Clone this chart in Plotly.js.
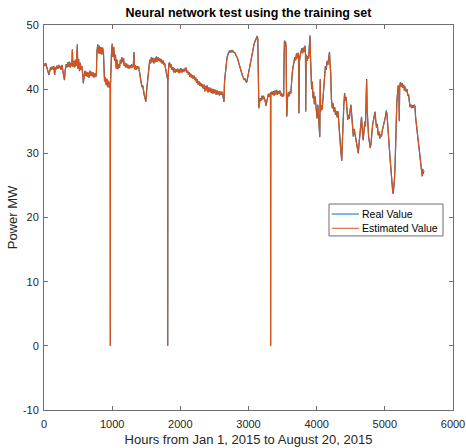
<!DOCTYPE html>
<html>
<head>
<meta charset="utf-8">
<script src="https://cdn.plot.ly/plotly-3.0.1.min.js"></script>
<style>html,body{margin:0;padding:0;background:#fff;}#chart{width:466px;height:448px;}</style>
</head>
<body>
<div id="chart"></div>
<script>
const chartTitle = 'Neural network test using the training set';
const xTitle = 'Hours from Jan 1, 2015 to August 20, 2015';
const yTitle = 'Power MW';
const seriesNames = ['Real Value', 'Estimated Value'];
const seriesColors = ['#0072BD', '#D95319'];
const xTicks = [0, 1000, 2000, 3000, 4000, 5000, 6000];
const yTicks = [-10, 0, 10, 20, 30, 40, 50];

const hours = [
0,12,24,36,48,60,72,84,96,108,120,132,144,156,168,180,192,204,216,228,240,252,264,276,288,300,
312,324,336,348,360,372,384,396,408,416,424,436,448,460,472,482,489,496,508,520,532,544,556,568,577,
588,600,612,624,636,648,660,672,684,696,708,720,732,744,756,768,776,788,800,812,824,836,848,860,872,
882,888,900,912,924,936,948,960,971,973,975,990,1000,1012,1024,1036,1048,1060,1072,1084,1096,1108,
1120,1132,1144,1156,1168,1176,1188,1200,1212,1224,1236,1248,1260,1272,1284,1296,1310,1320,1328,1340,
1352,1364,1376,1388,1400,1412,1424,1436,1448,1460,1472,1484,1494,1504,1516,1528,1540,1552,1564,1576,
1588,1600,1612,1624,1636,1648,1660,1672,1684,1696,1708,1720,1732,1744,1756,1768,1780,1792,1804,1813,
1815,1817,1830,1842,1854,1866,1878,1890,1902,1914,1926,1938,1950,1962,1974,1986,1998,2010,2022,2034,
2046,2058,2070,2082,2094,2106,2118,2130,2142,2154,2166,2178,2190,2202,2214,2226,2238,2250,2262,2274,
2286,2298,2310,2322,2334,2346,2358,2370,2382,2394,2406,2418,2430,2442,2454,2466,2478,2490,2502,2514,
2526,2538,2550,2562,2574,2586,2598,2610,2622,2634,2640,2648,2660,2672,2684,2696,2708,2720,2732,2744,
2756,2768,2780,2792,2804,2816,2828,2840,2852,2864,2876,2888,2900,2912,2924,2936,2948,2960,2972,2984,
2996,3008,3020,3032,3044,3056,3068,3080,3092,3104,3116,3128,3136,3142,3148,3152,3160,3172,3184,3196,
3208,3220,3232,3244,3256,3268,3280,3292,3304,3323,3325,3327,3340,3352,3364,3376,3388,3400,3412,3424,
3436,3448,3460,3472,3484,3496,3508,3516,3522,3528,3536,3544,3552,3558,3562,3572,3584,3596,3608,3620,
3632,3644,3656,3668,3680,3692,3704,3716,3728,3736,3740,3746,3758,3770,3782,3794,3806,3818,3828,3836,
3840,3846,3858,3870,3882,3892,3902,3908,3916,3926,3936,3946,3956,3966,3976,3986,3996,4006,4016,4026,
4036,4046,4052,4058,4068,4080,4092,4104,4116,4128,4140,4152,4164,4176,4188,4196,4206,4216,4228,4240,
4252,4264,4276,4288,4300,4312,4324,4336,4348,4360,4368,4376,4386,4398,4410,4420,4432,4444,4456,4468,
4480,4490,4502,4514,4526,4538,4550,4562,4574,4586,4598,4610,4622,4634,4646,4658,4670,4682,4694,4706,
4716,4726,4733,4740,4750,4762,4774,4786,4798,4810,4822,4834,4846,4856,4866,4878,4890,4902,4914,4926,
4938,4950,4962,4974,4986,4998,5010,5022,5032,5042,5054,5066,5078,5090,5100,5110,5118,5126,5134,5142,
5150,5158,5166,5176,5186,5196,5206,5212,5218,5228,5240,5252,5264,5276,5288,5300,5312,5324,5336,5348,
5360,5370,5382,5394,5406,5418,5430,5442,5452,5462,5472,5484,5496,5508,5520,5530,5540,5548,5556,5564,5572
];

const realMW = [
44.0,43.6,44.1,43.5,43.2,42.6,42.2,42.8,43.4,43.0,43.5,43.1,43.6,42.2,43.4,43.1,43.7,43.2,43.8,43.3,43.6,43.0,43.8,42.9,42.0,41.4,
43.0,43.9,43.4,44.2,43.5,44.3,43.4,44.1,43.6,46.2,43.5,44.4,43.4,44.6,43.6,44.9,47.0,43.2,44.7,42.8,44.1,43.0,43.6,42.2,40.9,
42.0,42.9,42.1,42.7,41.9,42.6,41.8,42.9,42.1,42.7,42.0,42.6,41.8,42.5,41.9,42.2,45.8,47.0,45.6,46.8,45.5,46.6,45.4,46.5,45.7,
44.0,41.2,41.9,40.6,41.6,40.3,41.3,40.2,41.0,0.0,40.5,45.6,47.1,45.0,46.6,44.4,45.4,43.2,44.6,43.1,43.9,43.3,
44.6,44.0,45.0,44.2,44.8,43.6,44.1,43.4,44.0,43.3,43.8,43.2,43.7,43.3,43.9,43.4,43.6,45.8,43.1,43.7,
43.0,43.6,43.2,43.5,42.8,41.6,41.1,40.3,40.6,39.4,39.0,38.5,38.0,39.6,41.3,42.6,43.4,44.6,44.0,45.0,
44.2,44.9,44.0,44.8,44.2,45.1,44.3,45.0,44.4,44.8,44.2,44.7,44.0,44.5,43.8,44.1,43.4,43.2,42.4,41.5,
0.0,41.0,43.9,44.2,43.4,43.9,43.0,43.4,42.6,43.3,42.6,43.1,42.7,43.2,42.5,43.1,42.6,43.3,42.6,43.1,
42.7,43.2,42.8,43.4,42.6,42.9,42.3,42.6,41.9,42.4,41.8,42.2,41.6,42.1,41.4,41.8,41.0,41.5,40.7,41.2,
40.5,41.0,40.4,40.8,40.1,40.7,39.6,40.5,39.8,40.6,39.5,40.3,39.6,40.2,39.4,40.1,39.3,40.0,39.4,39.9,
39.1,39.8,39.2,39.7,39.0,39.6,39.1,39.6,39.2,38.6,38.0,41.2,42.8,43.9,44.9,45.4,45.7,46.0,45.8,46.0,
45.8,46.0,45.8,45.7,45.6,45.3,45.1,44.8,44.3,43.8,43.4,43.0,42.5,42.1,41.8,41.5,41.6,41.2,41.0,41.6,
42.3,43.0,43.8,44.6,45.2,45.9,46.5,46.9,47.4,47.7,48.0,48.3,47.9,45.0,40.5,37.0,37.8,38.6,38.2,39.0,
38.4,39.0,38.6,38.2,37.4,38.0,38.9,39.3,38.8,39.5,0.0,39.2,39.6,39.1,39.7,39.0,39.8,39.2,39.9,39.1,
39.7,39.3,39.8,39.0,39.4,38.8,39.2,38.9,45.0,47.6,46.9,47.4,46.5,38.0,35.7,38.6,39.5,38.9,39.7,39.3,
41.5,42.8,43.6,44.2,45.0,44.5,45.6,44.8,45.7,45.0,36.2,44.2,45.3,45.8,46.4,45.6,46.5,45.8,46.8,45.5,
36.5,45.4,44.4,45.2,44.8,46.0,48.4,45.5,42.5,40.0,41.2,38.6,39.6,37.6,38.9,37.4,36.5,35.4,37.6,36.0,
34.0,32.5,41.6,36.5,37.5,36.8,38.5,40.0,42.4,43.6,43.0,44.4,43.8,45.2,45.8,44.0,42.5,38.5,37.0,37.8,
36.5,37.2,36.0,36.6,35.6,36.6,35.0,33.1,31.0,29.5,28.8,31.5,35.7,37.5,39.4,38.2,38.8,37.0,35.2,36.0,
35.4,36.7,37.6,36.0,34.0,32.6,33.8,33.0,31.8,31.6,30.6,30.0,31.5,32.8,34.6,35.7,33.5,32.0,33.5,35.0,
34.2,38.0,41.6,37.0,34.0,32.5,31.7,30.8,31.6,33.5,34.6,35.2,35.8,36.5,35.2,34.0,34.6,32.8,33.4,32.3,
33.0,32.6,33.5,34.0,34.6,35.0,35.8,36.7,36.0,34.5,32.0,30.2,29.0,27.4,26.0,24.8,23.7,24.0,24.8,26.0,
28.0,32.5,36.7,38.0,39.3,40.6,40.2,35.0,40.4,41.1,40.4,41.0,40.2,40.7,39.8,40.4,39.6,40.0,39.0,39.2,
38.0,37.2,37.6,37.0,37.5,37.1,37.6,37.3,35.5,34.5,33.8,32.6,31.5,30.6,29.5,28.5,27.2,26.4,27.6,26.8,27.3
];

const estMW = [
43.9,43.7,44.0,43.5,43.3,42.6,42.3,42.8,43.3,43.0,43.5,43.2,43.6,42.3,43.4,43.1,43.6,43.2,43.8,43.3,43.6,43.1,43.7,42.9,42.1,41.5,
43.0,43.8,43.4,44.1,43.5,44.2,43.4,44.1,43.6,46.1,43.5,44.3,43.4,44.5,43.6,44.8,46.9,43.2,44.6,42.9,44.1,43.0,43.6,42.3,41.0,
42.0,42.8,42.1,42.7,41.9,42.6,41.8,42.8,42.1,42.7,42.0,42.6,41.9,42.5,41.9,42.2,45.7,46.9,45.6,46.7,45.5,46.5,45.4,46.4,45.7,
44.0,41.2,41.8,40.7,41.6,40.3,41.3,40.3,41.0,0.0,40.6,45.5,47.0,45.0,46.5,44.4,45.3,43.2,44.5,43.1,43.9,43.3,
44.5,44.0,44.9,44.2,44.8,43.6,44.1,43.4,44.0,43.3,43.8,43.2,43.7,43.3,43.8,43.4,43.6,45.7,43.1,43.7,
43.0,43.6,43.2,43.5,42.8,41.6,41.1,40.4,40.6,39.5,39.0,38.6,38.1,39.6,41.3,42.6,43.4,44.5,44.0,44.9,
44.2,44.8,44.0,44.8,44.2,45.0,44.3,44.9,44.4,44.8,44.2,44.7,44.0,44.5,43.8,44.1,43.4,43.2,42.4,41.6,
0.0,41.1,43.8,44.1,43.4,43.9,43.0,43.4,42.6,43.2,42.6,43.1,42.7,43.2,42.5,43.1,42.6,43.2,42.6,43.1,
42.7,43.2,42.8,43.3,42.6,42.9,42.3,42.6,41.9,42.4,41.8,42.2,41.6,42.1,41.4,41.8,41.0,41.5,40.7,41.2,
40.5,41.0,40.4,40.8,40.2,40.7,39.7,40.5,39.8,40.5,39.5,40.3,39.6,40.2,39.4,40.0,39.3,40.0,39.4,39.9,
39.2,39.8,39.2,39.7,39.1,39.6,39.1,39.6,39.2,38.7,38.1,41.1,42.8,43.9,44.8,45.3,45.7,45.9,45.8,46.0,
45.8,45.9,45.8,45.7,45.6,45.3,45.1,44.8,44.3,43.8,43.4,43.0,42.5,42.1,41.8,41.5,41.6,41.2,41.1,41.6,
42.3,43.0,43.8,44.5,45.2,45.8,46.4,46.9,47.3,47.6,47.9,48.2,47.8,45.0,40.6,37.1,37.8,38.5,38.2,38.9,
38.4,38.9,38.6,38.2,37.5,38.0,38.9,39.2,38.8,39.4,0.0,39.2,39.5,39.1,39.6,39.0,39.7,39.2,39.8,39.1,
39.6,39.3,39.7,39.0,39.4,38.8,39.2,38.9,44.9,47.5,46.9,47.3,46.5,38.1,35.8,38.6,39.4,38.9,39.6,39.3,
41.5,42.7,43.6,44.1,44.9,44.5,45.5,44.8,45.6,45.0,36.3,44.2,45.2,45.7,46.3,45.6,46.4,45.8,46.7,45.5,
36.6,45.3,44.4,45.1,44.8,45.9,48.2,45.5,42.5,40.1,41.1,38.7,39.6,37.7,38.9,37.5,36.6,35.5,37.5,36.1,
34.1,32.6,41.4,36.6,37.5,36.8,38.4,40.0,42.3,43.5,43.0,44.3,43.8,45.1,45.7,44.0,42.5,38.6,37.1,37.8,
36.6,37.2,36.1,36.6,35.7,36.5,35.1,33.2,31.1,29.6,28.9,31.5,35.6,37.4,39.3,38.2,38.7,37.0,35.3,36.0,
35.4,36.6,37.5,36.0,34.1,32.7,33.8,33.0,31.9,31.7,30.7,30.1,31.5,32.8,34.5,35.6,33.5,32.1,33.5,34.9,
34.2,37.9,41.4,37.0,34.1,32.6,31.8,30.9,31.6,33.5,34.5,35.1,35.7,36.4,35.2,34.1,34.5,32.9,33.4,32.4,
33.0,32.7,33.5,34.0,34.5,35.0,35.7,36.6,36.0,34.5,32.1,30.3,29.1,27.5,26.1,24.9,23.8,24.1,24.9,26.1,
28.1,32.4,36.6,37.9,39.2,40.5,40.2,35.1,40.3,41.0,40.4,40.9,40.2,40.6,39.8,40.3,39.6,40.0,39.1,39.2,
38.1,37.3,37.6,37.1,37.5,37.1,37.5,37.3,35.6,34.6,33.9,32.7,31.6,30.7,29.6,28.6,27.3,26.5,27.5,26.9,27.3
];

const traces = [
  {x: hours, y: realMW, name: seriesNames[0], type: 'scatter', mode: 'lines',
   line: {color: seriesColors[0], width: 1.2}},
  {x: hours, y: estMW, name: seriesNames[1], type: 'scatter', mode: 'lines',
   line: {color: seriesColors[1], width: 1.2}}
];

const axisCommon = {
  ticks: 'inside', ticklen: 4, tickwidth: 1, tickcolor: '#6e6e6e',
  showline: true, linecolor: '#6e6e6e', linewidth: 1, mirror: 'ticks',
  showgrid: false, zeroline: false,
  tickfont: {size: 11, color: '#262626'}
};

// Box legend in the MATLAB style
const legBox = {x0: 0.6968, x1: 0.9756, y0: 0.4521, y1: 0.535};
const legRows = [0.509, 0.472];
const shapes = [
  {type: 'rect', xref: 'paper', yref: 'paper', x0: legBox.x0, x1: legBox.x1, y0: legBox.y0, y1: legBox.y1,
   line: {color: '#6e6e6e', width: 1}, fillcolor: '#ffffff', layer: 'above'}
];
const annotations = [];
seriesNames.forEach((nm, i) => {
  shapes.push({type: 'line', xref: 'paper', yref: 'paper', x0: 0.7034, x1: 0.770,
               y0: legRows[i], y1: legRows[i], line: {color: seriesColors[i], width: 1}, layer: 'above'});
  annotations.push({xref: 'paper', yref: 'paper', x: 0.773, y: legRows[i], xanchor: 'left', yanchor: 'middle',
                    text: nm, showarrow: false, font: {size: 10.5, color: '#000000'}});
});

const layout = {
  width: 466, height: 448,
  margin: {l: 44, r: 13, t: 25, b: 38, pad: 0},
  paper_bgcolor: '#ffffff', plot_bgcolor: '#ffffff',
  font: {family: '"Liberation Sans", Arial, sans-serif', size: 11, color: '#262626'},
  showlegend: false,
  title: {text: '<b>' + chartTitle + '</b>', font: {size: 12.5, color: '#000000'},
          x: 0.5, xref: 'paper', xanchor: 'center', y: 1 - 13 / 448, yanchor: 'middle'},
  xaxis: Object.assign({}, axisCommon, {
    range: [0, 6000], tickvals: xTicks, ticktext: xTicks.map(String), ticklabelstandoff: 4,
    title: {text: xTitle, font: {size: 13, color: '#262626'}, standoff: 5}
  }),
  yaxis: Object.assign({}, axisCommon, {
    range: [-10, 50], tickvals: yTicks, ticktext: yTicks.map(String), ticklabelstandoff: 2,
    title: {text: yTitle, font: {size: 13, color: '#262626'}, standoff: 2}
  }),
  shapes: shapes,
  annotations: annotations
};

Plotly.newPlot('chart', traces, layout, {staticPlot: true, displayModeBar: false});
</script>
</body>
</html>
